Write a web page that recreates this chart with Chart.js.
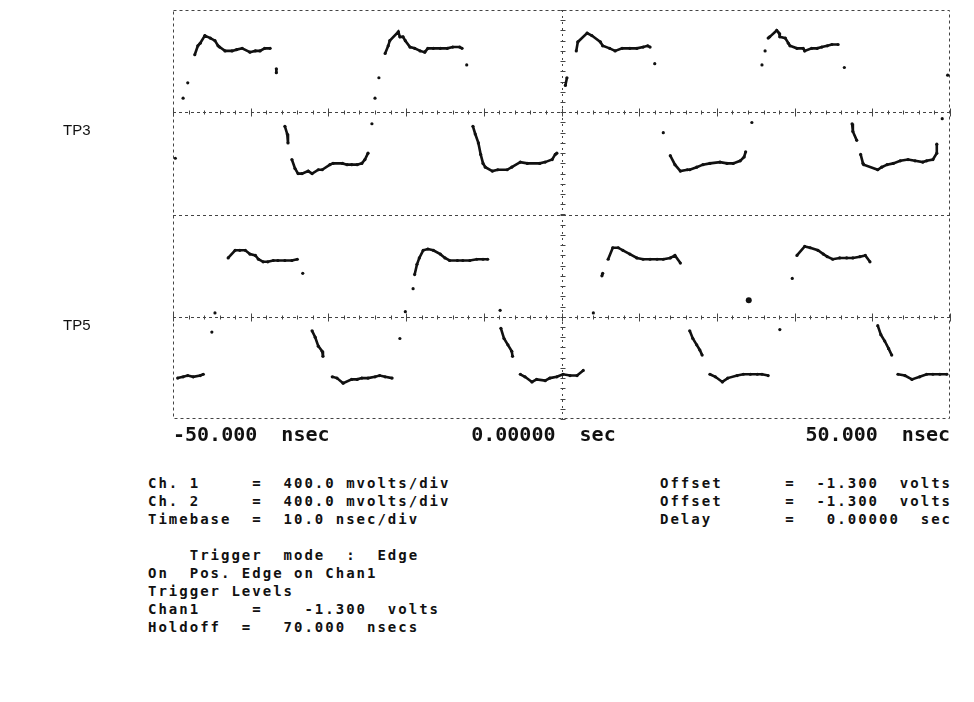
<!DOCTYPE html>
<html>
<head>
<meta charset="utf-8">
<script src="https://cdn.jsdelivr.net/npm/chart.js@4.4.0/dist/chart.umd.min.js"></script>
<style>
  html, body { margin: 0; padding: 0; background: #fff; }
  body { width: 974px; height: 702px; position: relative; overflow: hidden; }
  #wrap { position: absolute; left: 0; top: 0; width: 974px; height: 450px; }
  .chan { position: absolute; font-family: "Liberation Sans", Arial, sans-serif; font-size: 15px; color: #111; }
  .info { position: absolute; font-family: "DejaVu Sans Mono", monospace; font-size: 14px; font-weight: bold;
          letter-spacing: 2px; line-height: 18px; color: #111; white-space: pre; margin: 0; }
</style>
</head>
<body>
<div id="wrap"><canvas id="scope"></canvas></div>
<div class="chan" style="left:63px; top:121px">TP3</div>
<div class="chan" style="left:63px; top:316px">TP5</div>
<pre class="info" id="infoLeft" style="left:148px; top:474px"></pre>
<pre class="info" id="infoRight" style="left:660px; top:474px"></pre>
<script>
// channel 1 (TP3) samples: time in nsec, level in volts
const tp3Time = [-49.7, -48.7, -48.1, -47.2, -46.8, -46.5, -45.9, -45.2, -44.6, -44.2, -44.0, -43.3, -42.4, -41.8,
  -41.1, -40.1, -39.4, -38.8, -38.2, -37.5, -36.7, -36.7, -35.6, -35.3, -35.2, -34.7, -34.3, -33.9, -33.4, -32.6,
  -32.1, -31.3, -30.8, -29.8, -29.4, -28.2, -27.6, -27.0, -26.3, -25.7, -25.3, -24.9, -24.4, -24.0, -23.5, -22.7,
  -22.3, -22.1, -21.0, -20.8, -20.4, -20.1, -19.5, -18.9, -18.2, -17.6, -17.2, -16.5, -15.6, -14.7, -14.0, -13.1,
  -12.8, -12.2, -11.4, -11.1, -10.7, -10.4, -10.1, -9.8, -8.9, -8.2, -7.0, -6.4, -5.3, -4.4, -2.8, -2.1, -1.2,
  -0.8, -0.6, 0.5, 0.7, 1.9, 2.1, 3.3, 3.9, 5.0, 5.3, 6.2, 6.9, 7.8, 8.8, 9.7, 10.5, 11.1, 11.4, 12.0, 13.1, 14.0,
  14.6, 15.3, 16.2, 16.5, 17.4, 18.2, 19.1, 20.4, 21.3, 22.1, 23.0, 23.5, 23.7, 24.5, 25.8, 26.2, 26.6, 26.8, 27.7,
  28.0, 28.1, 28.8, 29.2, 29.4, 30.3, 31.1, 31.3, 32.2, 32.9, 33.5, 34.2, 34.8, 35.6, 36.4, 37.4, 37.5, 38.0, 38.5,
  38.8, 38.9, 40.7, 41.2, 41.9, 42.7, 43.6, 44.6, 45.5, 46.5, 47.0, 47.8, 48.3, 48.3, 49.0, 49.7];
const tp3Volts = [-1.66, -1.19, -1.07, -0.85, -0.78, -0.76, -0.70, -0.72, -0.74, -0.78, -0.79, -0.82, -0.82, -0.81,
  -0.80, -0.83, -0.82, -0.82, -0.80, -0.80, -0.96, -0.99, -1.41, -1.47, -1.54, -1.67, -1.74, -1.78, -1.78, -1.76,
  -1.78, -1.75, -1.75, -1.71, -1.70, -1.70, -1.71, -1.71, -1.71, -1.70, -1.67, -1.62, -1.39, -1.19, -1.03, -0.84,
  -0.78, -0.74, -0.67, -0.71, -0.71, -0.74, -0.79, -0.80, -0.82, -0.83, -0.80, -0.80, -0.80, -0.80, -0.79, -0.79,
  -0.80, -0.93, -1.41, -1.47, -1.54, -1.63, -1.70, -1.73, -1.76, -1.75, -1.75, -1.73, -1.69, -1.70, -1.70, -1.69, -1.67,
  -1.63, -1.62, -1.09, -1.03, -0.82, -0.75, -0.68, -0.70, -0.75, -0.78, -0.80, -0.82, -0.80, -0.80, -0.80, -0.79, -0.78,
  -0.79, -0.92, -1.46, -1.64, -1.71, -1.76, -1.75, -1.75, -1.73, -1.71, -1.70, -1.69, -1.70, -1.70, -1.68, -1.65, -1.61,
  -1.38, -0.93, -0.82, -0.72, -0.71, -0.66, -0.68, -0.71, -0.72, -0.76, -0.78, -0.80, -0.80, -0.82, -0.80, -0.80, -0.79,
  -0.78, -0.77, -0.77, -0.95, -1.39, -1.45, -1.52, -1.63, -1.70, -1.71, -1.75, -1.73, -1.71, -1.70, -1.68, -1.67, -1.68,
  -1.69, -1.68, -1.67, -1.62, -1.55, -1.35, -1.01];

// channel 2 (TP5) samples
const tp5Time = [-49.4, -48.7, -48.1, -47.4, -46.5, -46.1, -45.0, -44.6, -42.9, -42.0, -41.4, -40.7, -40.1, -39.4,
  -39.0, -38.4, -37.8, -37.1, -36.5, -35.6, -34.7, -34.0, -33.3, -32.1, -31.7, -31.3, -30.8, -30.7, -29.5, -28.9,
  -28.1, -27.0, -26.3, -25.7, -24.9, -24.0, -23.4, -22.7, -21.8, -20.8, -20.1, -19.1, -18.9, -18.6, -18.3, -17.8,
  -17.2, -16.5, -15.6, -15.0, -14.4, -13.4, -12.7, -11.8, -10.9, -10.1, -9.5, -7.9, -7.8, -7.4, -6.9, -6.4, -6.3,
  -5.3, -4.7, -3.8, -3.2, -2.1, -1.5, -0.6, 0.2, 1.1, 2.0, 2.8, 4.1, 5.2, 5.3, 6.0, 6.6, 7.3, 7.9, 8.8, 9.7, 10.5,
  11.4, 12.3, 13.1, 14.0, 14.6, 15.3, 16.5, 16.9, 17.4, 17.8, 18.1, 19.1, 19.8, 20.7, 21.4, 22.6, 23.4, 24.3, 25.2,
  25.8, 26.6, 28.1, 29.7, 30.3, 31.3, 32.0, 33.0, 33.7, 34.2, 34.9, 35.8, 36.7, 37.5, 38.4, 39.1, 39.7, 40.7, 41.1,
  41.6, 42.1, 42.5, 43.3, 44.2, 45.1, 46.1, 47.0, 47.8, 48.7, 49.6];
const tp5Volts = [-1.78, -1.77, -1.76, -1.77, -1.76, -1.75, -1.42, -1.27, -0.84, -0.78, -0.78, -0.78, -0.81, -0.82,
  -0.85, -0.87, -0.87, -0.86, -0.86, -0.86, -0.86, -0.85, -0.96, -1.41, -1.46, -1.53, -1.57, -1.61, -1.77, -1.78,
  -1.82, -1.79, -1.79, -1.78, -1.78, -1.77, -1.76, -1.77, -1.78, -1.47, -1.26, -1.08, -0.97, -0.89, -0.84, -0.78,
  -0.77, -0.78, -0.81, -0.84, -0.86, -0.86, -0.86, -0.86, -0.85, -0.85, -0.85, -1.25, -1.39, -1.47, -1.52, -1.57, -1.61,
  -1.75, -1.77, -1.81, -1.79, -1.80, -1.78, -1.77, -1.75, -1.76, -1.76, -1.72, -1.27, -0.98, -0.96, -0.85, -0.76, -0.76,
  -0.78, -0.81, -0.84, -0.85, -0.85, -0.85, -0.85, -0.84, -0.82, -0.88, -1.41, -1.47, -1.52, -1.56, -1.60, -1.75, -1.77,
  -1.81, -1.78, -1.76, -1.75, -1.75, -1.75, -1.75, -1.76, -1.40, -1.00, -0.82, -0.75, -0.76, -0.78, -0.81, -0.83, -0.85,
  -0.84, -0.84, -0.84, -0.83, -0.82, -0.87, -1.37, -1.44, -1.49, -1.55, -1.60, -1.75, -1.76, -1.79, -1.77, -1.75, -1.75,
  -1.75, -1.75];

// lone spot on channel 2
const tp5SpotTime = [24.1];
const tp5SpotVolts = [-1.17];

const xTickValues = [-50, 0, 50];
const xTickLabels = ['-50.000  nsec', '0.00000  sec   ', '50.000  nsec'];

const channelOffset = -1.3;   // volts
const voltsPerDiv = 0.4;
const divsPerChannel = 4;

const infoLeft = [
  'Ch. 1     =  400.0 mvolts/div',
  'Ch. 2     =  400.0 mvolts/div',
  'Timebase  =  10.0 nsec/div',
  '',
  '    Trigger  mode  :  Edge',
  'On  Pos. Edge on Chan1',
  'Trigger Levels',
  'Chan1     =    -1.300  volts',
  'Holdoff  =   70.000  nsecs'
];
const infoRight = [
  'Offset      =  -1.300  volts',
  'Offset      =  -1.300  volts',
  'Delay       =   0.00000  sec'
];

document.getElementById('infoLeft').textContent = infoLeft.join('\n');
document.getElementById('infoRight').textContent = infoRight.join('\n');

const ink = '#111';
const toPoints = (xs, ys) => xs.map((x, i) => ({ x: x, y: ys[i] }));
// edges are sparse dots on the scope, so only join samples that sit close together
const traceSegment = {
  borderColor: ctx => Math.abs(ctx.p1.parsed.y - ctx.p0.parsed.y) > 0.09 ? 'rgba(0,0,0,0)' : ink
};

function traceDataset(label, data, axis) {
  return {
    label: label,
    data: data,
    yAxisID: axis,
    showLine: true,
    borderColor: ink,
    borderWidth: 2.6,
    segment: traceSegment,
    pointRadius: 1.6,
    pointBorderWidth: 0,
    pointBackgroundColor: ink
  };
}

const yMin = channelOffset - voltsPerDiv * divsPerChannel / 2;
const yMax = channelOffset + voltsPerDiv * divsPerChannel / 2;

function line(ctx, x1, y1, x2, y2) {
  ctx.beginPath();
  ctx.moveTo(x1, y1);
  ctx.lineTo(x2, y2);
  ctx.stroke();
}

const scopeGrid = {
  id: 'scopeGrid',
  beforeDatasetsDraw(chart) {
    const { ctx, chartArea: a, scales } = chart;
    const channels = [scales.y3, scales.y5];
    const xc = Math.round(scales.x.getPixelForValue(0)) + 0.5;
    ctx.save();
    ctx.strokeStyle = '#444';
    ctx.lineWidth = 1;
    ctx.setLineDash([3, 3]);
    ctx.strokeRect(a.left + 0.5, a.top + 0.5, a.right - a.left - 1, a.bottom - a.top - 1);
    channels.forEach(s => {
      const y = Math.round(s.getPixelForValue(channelOffset)) + 0.5;
      line(ctx, a.left, y, a.right, y);
    });
    const split = Math.round(scales.y3.bottom) + 0.5;
    line(ctx, a.left, split, a.right, split);
    ctx.setLineDash([2, 4]);
    line(ctx, xc, a.top, xc, a.bottom);

    // small division marks along the centre lines
    ctx.setLineDash([]);
    const step = voltsPerDiv / 5;
    channels.forEach(s => {
      for (let v = s.min; v <= s.max + 1e-6; v += step) {
        const y = Math.round(s.getPixelForValue(v)) + 0.5;
        line(ctx, xc - 2, y, xc + 3, y);
      }
      const yc = Math.round(s.getPixelForValue(channelOffset)) + 0.5;
      for (let t = -50; t <= 50; t += 2) {
        const x = Math.round(scales.x.getPixelForValue(t)) + 0.5;
        const len = t % 10 === 0 ? 4 : 2;
        line(ctx, x, yc - len, x, yc + len);
      }
    });
    ctx.restore();
  }
};

new Chart(document.getElementById('scope'), {
  type: 'scatter',
  data: {
    datasets: [
      traceDataset('TP3', toPoints(tp3Time, tp3Volts), 'y3'),
      traceDataset('TP5', toPoints(tp5Time, tp5Volts), 'y5'),
      {
        label: 'spot',
        data: toPoints(tp5SpotTime, tp5SpotVolts),
        yAxisID: 'y5',
        pointRadius: 3,
        pointBorderWidth: 0,
        pointBackgroundColor: ink
      }
    ]
  },
  options: {
    responsive: true,
    maintainAspectRatio: false,
    animation: false,
    layout: { padding: { left: 173, right: 24, top: 10, bottom: 0 } },
    plugins: {
      legend: { display: false },
      tooltip: { enabled: false }
    },
    scales: {
      x: {
        type: 'linear',
        min: -50,
        max: 50,
        afterBuildTicks: scale => { scale.ticks = xTickValues.map(v => ({ value: v })); },
        afterFit: scale => { scale.height = 31; },
        grid: { display: false, drawTicks: false },
        border: { display: false },
        ticks: {
          align: 'inner',
          autoSkip: false,
          maxRotation: 0,
          padding: 5,
          color: ink,
          font: { family: 'DejaVu Sans Mono', size: 20, weight: 'bold' },
          callback: value => xTickLabels[xTickValues.indexOf(value)]
        }
      },
      // left-side stacked axes are laid out bottom-up, so the lower channel comes first
      y5: {
        type: 'linear',
        position: 'left',
        stack: 'scope',
        stackWeight: 1,
        min: yMin,
        max: yMax,
        display: false
      },
      y3: {
        type: 'linear',
        position: 'left',
        stack: 'scope',
        stackWeight: 1,
        min: yMin,
        max: yMax,
        display: false
      }
    }
  },
  plugins: [scopeGrid]
});
</script>
</body>
</html>
